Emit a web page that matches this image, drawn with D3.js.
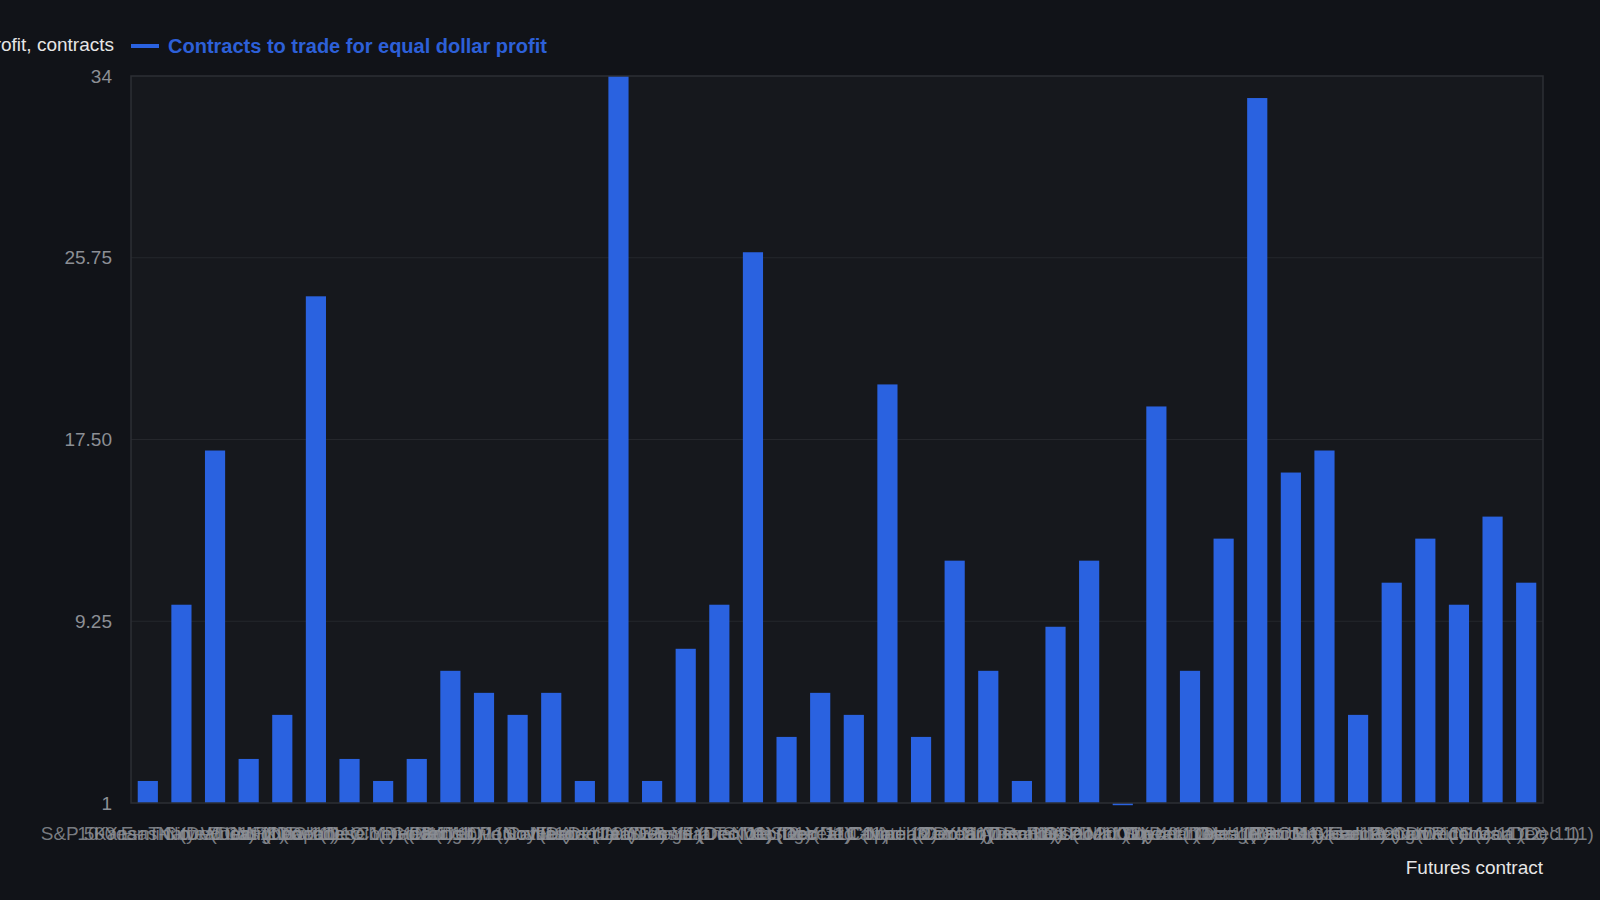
<!DOCTYPE html>
<html>
<head>
<meta charset="utf-8">
<script src="https://cdn.jsdelivr.net/npm/d3@7"></script>
<style>
  html, body { margin: 0; padding: 0; background: #111318; overflow: hidden; }
  svg { display: block; font-family: "Liberation Sans", Arial, sans-serif; }
</style>
</head>
<body>
<svg id="chart"></svg>
<script>
// Futures contracts (x categories)
const contracts = [
  "S&P 500 E-mini (Dec '11)", "10-Year T-Note (Dec '11)", "Kansas City Wheat (Dec '11)",
  "Natural Gas (Nov '11)", "Euro FX (Dec '11)", "Mini Dow (Dec '11)",
  "Light Crude Oil (Dec '11)", "Japanese Yen (Dec '11)", "Corn (Dec '11)",
  "Gold (Dec '11)", "Heating Oil (Nov '11)", "British Pound (Dec '11)",
  "Live Cattle (Dec '11)", "Soybeans (Jan '12)", "Eurodollar (Dec '11)",
  "Nasdaq 100 E-mini (Dec '11)", "Lean Hogs (Dec '11)", "Swiss Franc (Dec '11)",
  "5-Year T-Note (Dec '11)", "Silver (Dec '11)", "Coffee (Dec '11)",
  "Sugar #11 (Mar '12)", "2-Year T-Note (Dec '11)", "Copper (Dec '11)",
  "Canadian Dollar (Dec '11)", "Cotton (Dec '11)", "30-Year T-Bond (Dec '11)",
  "Soybean Oil (Dec '11)", "Australian Dollar (Dec '11)", "Russell 2000 (Dec '11)",
  "S&P MidCap 400 (Dec '11)", "Wheat (Dec '11)", "Soybean Meal (Dec '11)",
  "Oats (Dec '11)", "Orange Juice (Jan '12)", "Platinum (Jan '12)",
  "RBOB Gasoline (Nov '11)", "Mexican Peso (Dec '11)", "Feeder Cattle (Nov '11)",
  "Rough Rice (Jan '12)", "Dow Jones (Dec '11)", "Cocoa (Dec '11)"
];

// Contracts to trade for equal dollar profit
const contractsToTrade = [
  2, 10, 17, 3, 5, 24, 3, 2, 3, 7,
  6, 5, 6, 2, 34, 2, 8, 10, 26, 4,
  6, 5, 20, 4, 12, 7, 2, 9, 12, 0.9,
  19, 7, 13, 33, 16, 17, 5, 11, 13, 10,
  14, 11
];

// y-axis tick labels
const yTicks = [1, 9.25, 17.5, 25.75, 34];
const yTickLabels = ["1", "9.25", "17.50", "25.75", "34"];

const W = 1600, H = 900;
const margin = { top: 76, right: 57, bottom: 97, left: 131 };
const width = W - margin.left - margin.right;
const height = H - margin.top - margin.bottom;

const barColor = "#2a62e0";
const tickColor = "#8c8f95";

const svg = d3.select("#chart").attr("width", W).attr("height", H);

const g = svg.append("g")
  .attr("transform", `translate(${margin.left},${margin.top})`);

// Scales
const x = d3.scaleBand()
  .domain(contracts)
  .range([0, width])
  .paddingInner(0.4)
  .paddingOuter(0.2);

const y = d3.scaleLinear()
  .domain([1, 34])
  .range([height, 0]);

// Plot background
g.append("rect")
  .attr("width", width)
  .attr("height", height)
  .attr("fill", "#16181d");

// Grid lines
g.append("g")
  .selectAll("line")
  .data(yTicks.slice(1, -1))
  .join("line")
  .attr("x1", 0)
  .attr("x2", width)
  .attr("y1", d => y(d))
  .attr("y2", d => y(d))
  .attr("stroke", "#25272c")
  .attr("stroke-width", 1);

// Y axis labels
const yAxis = g.append("g")
  .call(d3.axisLeft(y).tickValues(yTicks).tickSize(0).tickPadding(19)
    .tickFormat((d, i) => yTickLabels[i]));
yAxis.select(".domain").remove();
yAxis.selectAll("text")
  .attr("fill", tickColor)
  .style("font-size", "19px")
  .style("font-family", "Liberation Sans, Arial, sans-serif");

// Bars
g.append("g")
  .selectAll("rect")
  .data(contractsToTrade)
  .join("rect")
  .attr("x", (d, i) => x(contracts[i]))
  .attr("width", x.bandwidth())
  .attr("y", d => Math.min(y(d), y(1)))
  .attr("height", d => Math.abs(y(1) - y(d)))
  .attr("fill", barColor);

// Plot border
g.append("rect")
  .attr("width", width)
  .attr("height", height)
  .attr("fill", "none")
  .attr("stroke", "#2d2f34")
  .attr("stroke-width", 1.5);

// X axis labels
const xAxis = g.append("g")
  .attr("transform", `translate(0,${height})`)
  .call(d3.axisBottom(x).tickSize(0).tickPadding(24));
xAxis.select(".domain").remove();
xAxis.selectAll("text")
  .attr("fill", tickColor)
  .attr("fill-opacity", 0.85)
  .style("font-size", "19px")
  .style("font-family", "Liberation Sans, Arial, sans-serif");

// X axis title
svg.append("text")
  .attr("x", margin.left + width)
  .attr("y", 874)
  .attr("text-anchor", "end")
  .attr("fill", "#e6e6e6")
  .style("font-size", "19px")
  .text("Futures contract");

// Y axis title (horizontal, clipped at the left edge)
svg.append("text")
  .attr("x", 114)
  .attr("y", 51)
  .attr("text-anchor", "end")
  .attr("fill", "#e6e6e6")
  .style("font-size", "19px")
  .text("Contracts to trade for equal dollar profit, contracts");

// Legend
svg.append("line")
  .attr("x1", 131)
  .attr("x2", 159)
  .attr("y1", 46)
  .attr("y2", 46)
  .attr("stroke", barColor)
  .attr("stroke-width", 4);

svg.append("text")
  .attr("x", 168)
  .attr("y", 53)
  .attr("fill", "#2d60d8")
  .style("font-size", "20px")
  .style("font-weight", "bold")
  .text("Contracts to trade for equal dollar profit");
</script>
</body>
</html>
